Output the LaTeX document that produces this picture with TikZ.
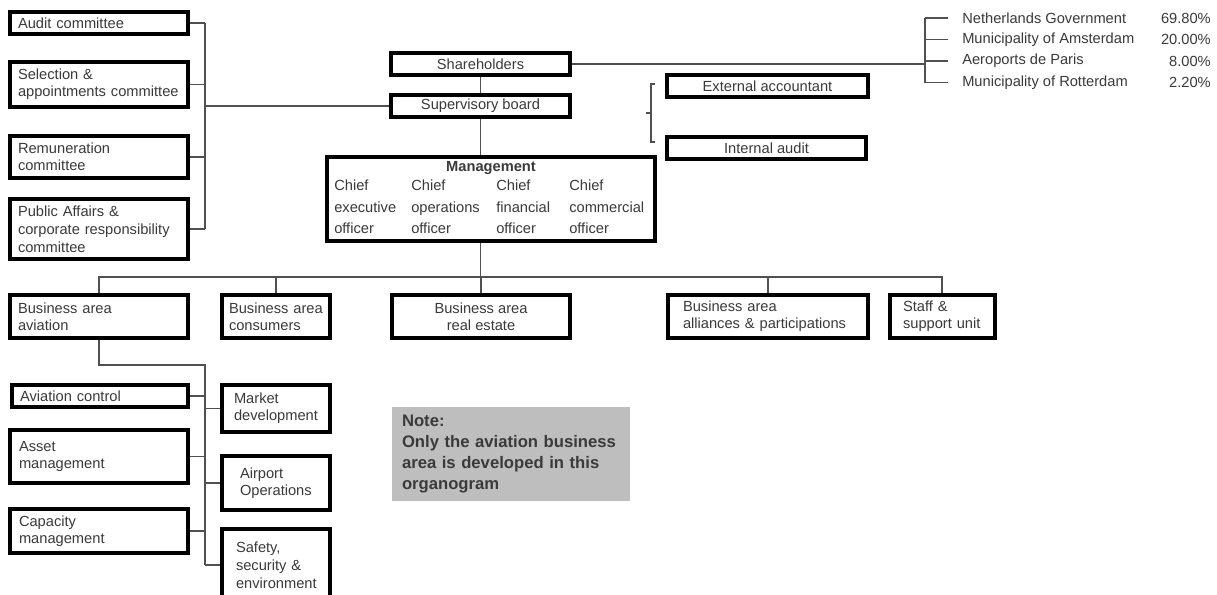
\documentclass[tikz,border=0pt]{standalone}
\usepackage{fontspec}
\setmainfont{Liberation Sans}
\definecolor{ink}{HTML}{3A3A3A}
\definecolor{wire}{HTML}{505050}
\definecolor{notegray}{HTML}{BEBEBE}

\begin{document}
\begin{tikzpicture}[x=0.75pt,y=-0.75pt,
  every node/.style={font=\fontsize{11}{13}\selectfont, text=ink},
  box/.style={draw=black, line width=2.3pt, inner sep=0pt, align=left},
  cbox/.style={box, align=center},
  conn/.style={draw=wire, line width=1.1pt},
  plain/.style={inner sep=0pt, align=left},
  chief/.style={plain, anchor=north west, font=\fontsize{11}{16}\selectfont},
]
% page frame
\useasboundingbox (0,0) rectangle (1217,594);
\fill[white] (0,0) rectangle (1217,594);
\clip (0,0) rectangle (1217,594);

% board committees
\node[box, minimum width=133.5pt, minimum height=16.5pt, text width=121.5pt] (audit) at (99,23) {Audit committee};
\node[box, minimum width=133.5pt, minimum height=33.75pt, text width=121.5pt] (select) at (99,84.5) {Selection \&\\appointments committee};
\node[box, minimum width=133.5pt, minimum height=31.5pt, text width=121.5pt] (remun) at (99,157) {Remuneration\\committee};
\node[box, minimum width=133.5pt, minimum height=45pt, text width=121.5pt, font=\fontsize{11}{13.5}\selectfont] (public) at (99,229) {Public Affairs \&\\corporate responsibility\\committee};

% governance
\node[cbox, minimum width=134.25pt, minimum height=16.5pt] (share) at (480.5,64) {Shareholders};
\node[cbox, minimum width=134.25pt, minimum height=16.5pt] (superv) at (480.5,106) {Supervisory board};
\node[cbox, minimum width=150.75pt, minimum height=16.5pt] (extacc) at (767.5,86) {External accountant};
\node[cbox, minimum width=149.25pt, minimum height=16.5pt] (intaud) at (766.5,148) {Internal audit};

% management
\node[box, minimum width=246pt, minimum height=63pt] (mgmt) at (491,199) {};
\node[plain, font=\fontsize{11}{13}\selectfont\bfseries] (mtitle) at (491,168) {Management};
\node[chief] (ceo) at (334,180) {Chief\\executive\\officer};
\node[chief] (coo) at (411,180) {Chief\\operations\\officer};
\node[chief] (cfo) at (496,180) {Chief\\financial\\officer};
\node[chief] (cco) at (569,180) {Chief\\commercial\\officer};

% shareholders
\node[plain, anchor=west] (sh1) at (962,18) {Netherlands Government};
\node[plain, anchor=west] (sh2) at (962,39.5) {Municipality of Amsterdam};
\node[plain, anchor=west] (sh3) at (962,61) {Aeroports de Paris};
\node[plain, anchor=west] (sh4) at (962,82.5) {Municipality of Rotterdam};
\node[plain, anchor=east] (pc1) at (1211,18) {69.80\%};
\node[plain, anchor=east] (pc2) at (1211,39.5) {20.00\%};
\node[plain, anchor=east] (pc3) at (1211,61) {8.00\%};
\node[plain, anchor=east] (pc4) at (1211,82.5) {2.20\%};

% business areas
\node[box, minimum width=133.5pt, minimum height=32.25pt, text width=121.5pt] (aviation) at (99,316.5) {Business area\\aviation};
\node[box, minimum width=81pt, minimum height=32.25pt, text width=70.5pt] (consum) at (276,316.5) {Business area\\consumers};
\node[cbox, minimum width=133.5pt, minimum height=32.25pt] (realest) at (481,316.5) {Business area\\real estate};
\node[box, minimum width=150pt, minimum height=32.25pt, text width=127.5pt] (allian) at (768,316.5) {Business area\\alliances \& participations};
\node[box, minimum width=78.75pt, minimum height=32.25pt, text width=59.25pt] (staff) at (942.5,316.5) {Staff \&\\support unit};

% aviation units
\node[box, minimum width=132pt, minimum height=16.5pt, text width=120pt] (avctrl) at (100,396) {Aviation control};
\node[box, minimum width=133.5pt, minimum height=39.75pt, text width=120pt] (asset) at (99,456.5) {Asset\\management};
\node[box, minimum width=133.5pt, minimum height=33pt, text width=120pt] (capac) at (99,531) {Capacity\\management};
\node[box, minimum width=81pt, minimum height=35.25pt, text width=63pt] (market) at (276,408.5) {Market\\development};
\node[box, minimum width=81pt, minimum height=40.5pt, text width=54pt] (airport) at (276,483) {Airport\\Operations};
\node[box, minimum width=81pt, minimum height=54pt, text width=60pt, font=\fontsize{11}{13.5}\selectfont] (safety) at (276,565) {Safety,\\security \&\\environment};

% note
\node[fill=notegray, inner sep=0pt, minimum width=178.5pt, minimum height=70.5pt, text width=163.5pt, align=left,
      font=\fontsize{12.5}{15.75}\selectfont\bfseries] (note) at (511,454)
  {Note:\\Only the aviation business\\area is developed in this\\organogram};

% committee connectors
\coordinate (cbar) at (205,107);
\draw[conn] (audit.east -| cbar) -- (public.east -| cbar);
\foreach \n in {audit,select,remun,public} \draw[conn] (\n.east) -- (\n.east -| cbar);
\draw[conn] (superv.west) -- (superv.west -| cbar);

% governance line
\draw[conn] (share.south) -- (superv.north);
\draw[conn] (superv.south) -- (superv.south |- mgmt.north);

% shareholder list
\coordinate (shx) at (925,62);
\draw[conn] (share.east) -- (share.east -| shx);
\draw[conn] (sh1.west -| shx) -- (sh4.west -| shx);
\foreach \n in {sh1,sh2,sh3,sh4} \draw[conn, shorten >=10.5pt] (\n.west -| shx) -- (\n.west);

% audit brace
\draw[conn, line width=0.8pt] (655,84) -- (651,84) -- (651,142) -- (655,142) (651,113) -- (646,113);

% business area bus
\coordinate (busend) at (942,277);
\draw[conn] (superv.south |- mgmt.south) -- (superv.south |- busend);
\draw[conn] (aviation.north) |- (busend) -- (busend |- staff.north);
\draw[conn] (consum.north) -- (consum.north |- busend);
\draw[conn] (realest.north) -- (realest.north |- busend);
\draw[conn] (allian.north) -- (allian.north |- busend);

% aviation tree
\coordinate (avx) at (205,365);
\draw[conn] (aviation.south) |- (avx) -- (avx |- safety.west);
\foreach \n in {avctrl,asset,capac} \draw[conn] (\n.east) -- (\n.east -| avx);
\foreach \n in {market,airport,safety} \draw[conn] (\n.west) -- (\n.west -| avx);
\end{tikzpicture}
\end{document}
